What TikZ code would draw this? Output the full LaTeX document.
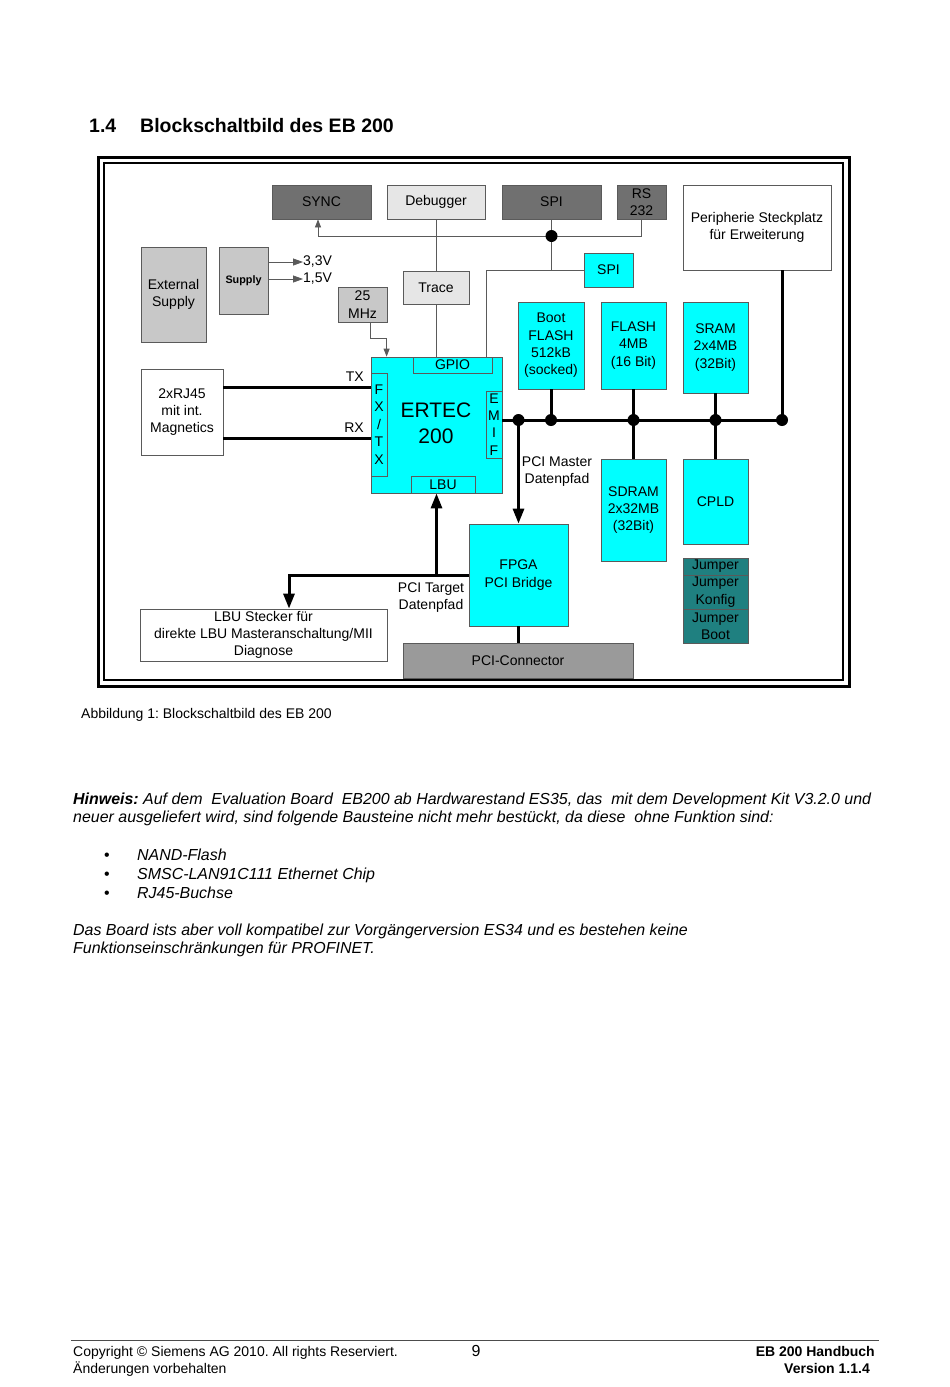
\documentclass[tikz,border=0pt]{standalone}
\usepackage{fontspec}
\setmainfont{Liberation Sans}
\usetikzlibrary{arrows.meta,calc}
\definecolor{cy}{HTML}{00FFFF}
\definecolor{dkg}{HTML}{707070}
\definecolor{ltg}{HTML}{E6E6E6}
\definecolor{mdg}{HTML}{C8C8C8}
\definecolor{pcig}{HTML}{9A9A9A}
\definecolor{jteal}{HTML}{1F8080}
\definecolor{bord}{HTML}{5A5A5A}
\newcommand\dgfont{\fontsize{14}{17.3}\selectfont}
\newcommand\txfont{\fontsize{15.95}{18}\selectfont}
\frenchspacing
\begin{document}
\begin{tikzpicture}[x=1pt,y=-1pt,
  box/.style={draw=bord,line width=0.8pt,align=center,inner sep=0pt,font=\dgfont},
  lbl/.style={align=center,inner sep=0pt,font=\dgfont},
  thinln/.style={draw=bord,line width=0.8pt},
  thickln/.style={draw=black,line width=3pt},
  bigtip/.style={-{Triangle[width=11pt,length=15pt]}},
  smalltip/.style={-{Triangle[width=6pt,length=8pt]}},
  dot/.style={fill=black},
  ptext/.style={anchor=base west,inner sep=0pt,font=\txfont\itshape},
  ftext/.style={inner sep=0pt,font=\fontsize{14}{16}\selectfont}]
\fill[white] (0,0) rectangle (950,1387);
\useasboundingbox (0,0) rectangle (950,1387);

% title
\node[anchor=base west,inner sep=0pt,font=\fontsize{19.5}{22}\selectfont\bfseries] (tnum) at (89,132) {1.4};
\node[anchor=base west,inner sep=0pt,font=\fontsize{19.5}{22}\selectfont\bfseries] (ttl) at (140,132) {Blockschaltbild des EB 200};

% frame
\draw[line width=3pt] (98,157) rectangle (849,686);
\draw[line width=2pt] (104,163) rectangle (843,680);

% top row
\node[box,fill=dkg,minimum width=99,minimum height=34] (SYNC) at (321.5,202) {SYNC};
\node[box,fill=ltg,minimum width=98,minimum height=34] (DBG) at (436,202) {Debugger};
\node[box,fill=dkg,minimum width=99,minimum height=34] (SPIt) at (551.5,202) {SPI};
\node[box,fill=dkg,minimum width=49,minimum height=34] (RS) at (641.5,202) {RS\\232};
\node[box,fill=white,minimum width=148,minimum height=85] (PER) at (757,227.5) {Peripherie Steckplatz\\für Erweiterung};

% supply
\node[box,fill=mdg,minimum width=65,minimum height=95] (EXT) at (173.5,294.5) {External\\Supply};
\node[box,fill=mdg,minimum width=49,minimum height=67,font=\fontsize{10.8}{13}\selectfont\bfseries] (SUP) at (243.5,280.5) {Supply};
\node[lbl,anchor=west] (V33) at (303,262) {3,3V};
\node[lbl,anchor=west] (V15) at (303,279) {1,5V};
\draw[thinln,-{Triangle[width=7pt,length=10pt]}] (SUP.east |- V33) -- (V33.west);
\draw[thinln,-{Triangle[width=7pt,length=10pt]}] (SUP.east |- V15) -- (V15.west);

\node[box,fill=mdg,minimum width=49,minimum height=35] (MHZ) at (362.5,304.5) {25\\MHz};
\node[box,fill=ltg,minimum width=66,minimum height=33] (TRC) at (436,287.5) {Trace};
\node[box,fill=cy,minimum width=49,minimum height=34] (SPIc) at (608.5,270) {SPI};

% ERTEC
\node[box,fill=cy,minimum width=131,minimum height=136] (ERT) at (436.5,425) {};
\node[lbl,font=\fontsize{21}{26}\selectfont] (ERTt) at (436,423) {ERTEC\\200};
\node[box,fill=cy,minimum width=79,minimum height=16] (GPIO) at (452.5,365) {GPIO};
\node[box,fill=cy,minimum width=16,minimum height=103,font=\fontsize{14}{17.5}\selectfont] (FX) at (379,424.5) {F\\X\\/\\T\\X};
\node[box,fill=cy,minimum width=16,minimum height=67,font=\fontsize{14}{17.3}\selectfont] (EMIF) at (494,424.5) {E\\M\\I\\F};
\node[box,fill=cy,minimum width=64,minimum height=17] (LBU) at (443,484.5) {LBU};

% RJ45
\node[box,fill=white,minimum width=82,minimum height=86] (RJ) at (182,412) {2xRJ45\\mit int.\\Magnetics};
\draw[thickln] ([yshift=25]RJ.east) -- ([yshift=25]RJ.east -| ERT.west);
\draw[thickln] ([yshift=-26]RJ.east) -- ([yshift=-26]RJ.east -| ERT.west);
\node[lbl,anchor=east] (TX) at (364,377) {TX};
\node[lbl,anchor=east] (RX) at (364,428) {RX};

% memories
\node[box,fill=cy,minimum width=66,minimum height=87] (BOOT) at (551,345.5) {Boot\\FLASH\\512kB\\(socked)};
\node[box,fill=cy,minimum width=65,minimum height=87] (FLA) at (633.5,345.5) {FLASH\\4MB\\(16 Bit)};
\node[box,fill=cy,minimum width=65,minimum height=91] (SRAM) at (715.5,347.5) {SRAM\\2x4MB\\(32Bit)};
\node[box,fill=cy,minimum width=65,minimum height=102] (SDR) at (633.5,510) {SDRAM\\2x32MB\\(32Bit)};
\node[box,fill=cy,minimum width=65,minimum height=85] (CPLD) at (715.5,501.5) {CPLD};
\node[box,fill=jteal,minimum width=65,minimum height=17] (J1) at (715.5,566.5) {Jumper};
\node[box,fill=jteal,minimum width=65,minimum height=34] (J2) at (715.5,592) {Jumper\\Konfig};
\node[box,fill=jteal,minimum width=65,minimum height=34] (J3) at (715.5,626) {Jumper\\Boot};

% FPGA etc
\node[box,fill=cy,minimum width=99,minimum height=102] (FPGA) at (518.5,575) {FPGA\\PCI Bridge};
\node[box,fill=white,minimum width=247,minimum height=52] (LST) at (263.5,635) {LBU Stecker für\\direkte LBU Masteranschaltung/MII\\Diagnose};
\node[box,fill=pcig,minimum width=230,minimum height=35] (PCI) at (518,660.5) {PCI-Connector};
\node[lbl] (PMD) at (557,471.5) {PCI Master\\Datenpfad};
\node[lbl] (PTD) at (431,597.5) {PCI Target\\Datenpfad};

% thin connections
\coordinate (tb) at (0,236);
\coordinate (jT) at (SPIt.south |- tb);
\draw[thinln,smalltip] (RS.south) |- ([xshift=-3.5]SYNC.south |- tb) -- ([xshift=-3.5]SYNC.south);
\draw[thinln] (DBG.south) -- (TRC.north);
\draw[thinln] (TRC.south) -- (TRC.south |- ERT.north);
\draw[thinln] (SPIt.south) |- (SPIc.west);
\draw[thinln] (SPIc.west) -| ([xshift=-6]GPIO.north east);
\fill[dot] (jT) circle[radius=6pt];
\draw[thinln,smalltip] ([xshift=8]MHZ.south) -- ++(0,16) -| ([xshift=16]ERT.north west);

% bus
\coordinate (bus) at (0,420);
\coordinate (jM) at (FPGA.north |- bus);
\coordinate (jB) at (BOOT.south |- bus);
\coordinate (jF) at (FLA.south |- bus);
\coordinate (jS) at (SRAM.south |- bus);
\coordinate (jP) at ([xshift=25]PER.south |- bus);
\draw[thickln] (EMIF.east |- bus) -- (jP);
\draw[thickln] ([xshift=25]PER.south) -- (jP);
\draw[thickln] (BOOT.south) -- (jB);
\draw[thickln] (FLA.south) -- (SDR.north);
\draw[thickln] (SRAM.south) -- (CPLD.north);
\foreach \j in {jM,jB,jF,jS,jP} \fill[dot] (\j) circle[radius=6pt];
\draw[thickln,bigtip] (jM) -- (FPGA.north);
\draw[thickln,bigtip] (FPGA.west) -| ([xshift=25.5]LST.north);
\draw[thickln,bigtip] (ERT.south |- FPGA.west) -- (ERT.south);
\draw[thickln] (FPGA.south) -- (FPGA.south |- PCI.north);

% caption and text
\node[ftext,anchor=base west] (cap) at (81,718) {Abbildung 1: Blockschaltbild des EB 200};
\node[ptext] (h1) at (73,804) {\textbf{Hinweis:} Auf dem\ \ Evaluation Board\ \ EB200 ab Hardwarestand ES35, das\ \ mit dem Development Kit V3.2.0 und};
\node[ptext] (h2) at (73,822) {neuer ausgeliefert wird, sind folgende Bausteine nicht mehr bestückt, da diese\ \ ohne Funktion sind:};
\node[ptext,font=\txfont] (b1) at (104,860) {•};
\node[ptext,font=\txfont] (b2) at (104,879) {•};
\node[ptext,font=\txfont] (b3) at (104,898) {•};
\node[ptext] (i1) at (137,860) {NAND-Flash};
\node[ptext] (i2) at (137,879) {SMSC-LAN91C111 Ethernet Chip};
\node[ptext] (i3) at (137,898) {RJ45-Buchse};
\node[ptext] (p1) at (73,935) {Das Board ists aber voll kompatibel zur Vorgängerversion ES34 und es bestehen keine};
\node[ptext] (p2) at (73,953) {Funktionseinschränkungen für PROFINET.};

% footer
\draw[draw=black!70,line width=0.8pt] (71,1340) -- (879,1340);
\node[ftext,anchor=base west] (f1) at (73,1356) {Copyright © Siemens AG 2010. All rights Reserviert.};
\node[ftext,anchor=base west] (f2) at (73,1373) {Änderungen vorbehalten};
\node[ftext,anchor=base,font=\fontsize{16}{18}\selectfont] (pg) at (476,1356) {9};
\node[ftext,anchor=base east,font=\fontsize{14}{16}\selectfont\bfseries] (f3) at (875,1356) {EB 200 Handbuch};
\node[ftext,anchor=base east,font=\fontsize{14}{16}\selectfont\bfseries] (f4) at (870,1373) {Version 1.1.4};
\end{tikzpicture}
\end{document}
